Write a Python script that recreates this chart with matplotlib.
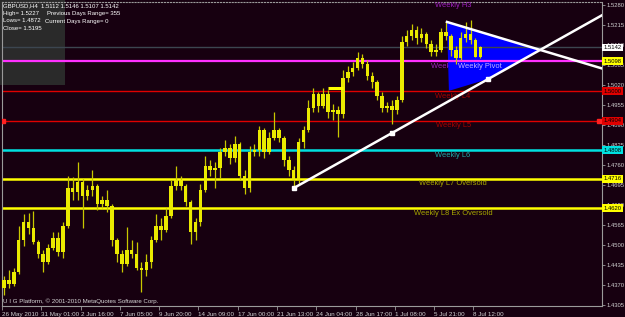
import matplotlib
matplotlib.use("Agg")
import matplotlib.pyplot as plt
import matplotlib.transforms as mtransforms
from matplotlib.patches import Rectangle, Polygon
import numpy as np

# GBPUSD, H4 candles (two H4 periods per candle)
opens = [1.4360, 1.4386, 1.4373, 1.4412, 1.4516, 1.4575, 1.4555, 1.4510, 1.4471, 1.4445,
         1.4490, 1.4523, 1.4477, 1.4562, 1.4685, 1.4672, 1.4705, 1.4659, 1.4679, 1.4692,
         1.4633, 1.4646, 1.4627, 1.4516, 1.4471, 1.4438, 1.4484, 1.4471, 1.4425, 1.4419,
         1.4445, 1.4516, 1.4562, 1.4549, 1.4594, 1.4692, 1.4711, 1.4692, 1.4640, 1.4542,
         1.4575, 1.4679, 1.4757, 1.4744, 1.4750, 1.4802, 1.4815, 1.4783, 1.4828, 1.4724,
         1.4685, 1.4802, 1.4809, 1.4874, 1.4802, 1.4848, 1.4874, 1.4848, 1.4776, 1.4744,
         1.4711, 1.4835, 1.4874, 1.4945, 1.4991, 1.4952, 1.4991, 1.4932, 1.4939, 1.4926,
         1.5043, 1.5062, 1.5075, 1.5108, 1.5088, 1.5049, 1.5030, 1.4984, 1.4945, 1.4952,
         1.4939, 1.4971, 1.5160, 1.5179, 1.5199, 1.5173, 1.5186, 1.5153, 1.5127, 1.5134,
         1.5192, 1.5179, 1.5134, 1.5108, 1.5173, 1.5186, 1.5166, 1.5112]
highs = [1.4399, 1.4419, 1.4425, 1.4562, 1.4601, 1.4604, 1.4611, 1.4516, 1.4484, 1.4503,
         1.4542, 1.4542, 1.4575, 1.4724, 1.4721, 1.4770, 1.4718, 1.4695, 1.4744, 1.4698,
         1.4659, 1.4679, 1.4633, 1.4523, 1.4484, 1.4559, 1.4516, 1.4510, 1.4445, 1.4471,
         1.4529, 1.4601, 1.4588, 1.4620, 1.4711, 1.4757, 1.4724, 1.4698, 1.4646, 1.4588,
         1.4698, 1.4789, 1.4776, 1.4770, 1.4815, 1.4841, 1.4828, 1.4854, 1.4835, 1.4744,
         1.4822, 1.4828, 1.4887, 1.4880, 1.4867, 1.4932, 1.4880, 1.4854, 1.4789, 1.4757,
         1.4848, 1.4887, 1.4971, 1.5010, 1.4997, 1.5010, 1.5004, 1.4958, 1.4952, 1.5069,
         1.5082, 1.5095, 1.5127, 1.5121, 1.5101, 1.5062, 1.5036, 1.4997, 1.4965, 1.4971,
         1.4984, 1.5179, 1.5199, 1.5218, 1.5212, 1.5205, 1.5192, 1.5166, 1.5153, 1.5205,
         1.5225, 1.5186, 1.5147, 1.5192, 1.5225, 1.5232, 1.5173, 1.5146]
lows = [1.4338, 1.4360, 1.4367, 1.4406, 1.4497, 1.4536, 1.4503, 1.4458, 1.4412, 1.4438,
        1.4484, 1.4464, 1.4458, 1.4555, 1.4646, 1.4646, 1.4555, 1.4646, 1.4659, 1.4614,
        1.4620, 1.4607, 1.4497, 1.4445, 1.4412, 1.4432, 1.4458, 1.4419, 1.4347, 1.4399,
        1.4425, 1.4510, 1.4516, 1.4542, 1.4588, 1.4679, 1.4679, 1.4627, 1.4503, 1.4516,
        1.4562, 1.4672, 1.4724, 1.4685, 1.4718, 1.4789, 1.4763, 1.4770, 1.4711, 1.4666,
        1.4672, 1.4789, 1.4789, 1.4783, 1.4796, 1.4841, 1.4835, 1.4757, 1.4724, 1.4685,
        1.4698, 1.4815, 1.4867, 1.4932, 1.4932, 1.4945, 1.4913, 1.4906, 1.4851, 1.4913,
        1.5030, 1.5049, 1.5069, 1.5075, 1.5036, 1.5010, 1.4971, 1.4932, 1.4932, 1.4893,
        1.4926, 1.4965, 1.5147, 1.5166, 1.5153, 1.5160, 1.5140, 1.5114, 1.5114, 1.5127,
        1.5166, 1.5114, 1.5088, 1.5101, 1.5160, 1.5153, 1.5111, 1.5107]
closes = [1.4386, 1.4373, 1.4412, 1.4516, 1.4575, 1.4555, 1.4510, 1.4471, 1.4445, 1.4490,
          1.4523, 1.4477, 1.4562, 1.4685, 1.4672, 1.4705, 1.4659, 1.4679, 1.4692, 1.4633,
          1.4646, 1.4627, 1.4516, 1.4471, 1.4438, 1.4484, 1.4471, 1.4425, 1.4419, 1.4445,
          1.4516, 1.4562, 1.4549, 1.4594, 1.4692, 1.4711, 1.4692, 1.4640, 1.4542, 1.4575,
          1.4679, 1.4757, 1.4744, 1.4750, 1.4802, 1.4815, 1.4783, 1.4828, 1.4724, 1.4685,
          1.4802, 1.4809, 1.4874, 1.4802, 1.4848, 1.4874, 1.4848, 1.4776, 1.4744, 1.4711,
          1.4835, 1.4874, 1.4945, 1.4991, 1.4952, 1.4991, 1.4932, 1.4939, 1.4926, 1.5043,
          1.5062, 1.5075, 1.5108, 1.5088, 1.5049, 1.5030, 1.4984, 1.4945, 1.4952, 1.4939,
          1.4971, 1.5160, 1.5179, 1.5199, 1.5173, 1.5186, 1.5153, 1.5127, 1.5134, 1.5192,
          1.5179, 1.5134, 1.5108, 1.5173, 1.5186, 1.5166, 1.5112, 1.5142]

time_labels = ["26 May 2010", "31 May 01:00", "2 Jun 16:00", "7 Jun 05:00", "9 Jun 20:00",
               "14 Jun 09:00", "17 Jun 00:00", "21 Jun 13:00", "24 Jun 04:00", "28 Jun 17:00",
               "1 Jul 08:00", "5 Jul 21:00", "8 Jul 12:00"]
price_ticks = [1.5280, 1.5215, 1.5150, 1.5085, 1.5020, 1.4955, 1.4890, 1.4825, 1.4760,
               1.4695, 1.4630, 1.4565, 1.4500, 1.4435, 1.4370, 1.4305]

level_names = ["Weekly H3", "Weekly Pivot", "Weekly L4", "Weekly L5", "Weekly L6",
               "Weekly L7 Oversold", "Weekly L8 Ex Oversold"]
level_prices = [1.5295, 1.5098, 1.5000, 1.4904, 1.4808, 1.4716, 1.4620]
last_price = 1.5142

# trend lines (bar, price anchors)
up_bars = [59, 79]
up_prices = [1.4685, 1.4864]
down_bars = [90.2, 109.2]
down_prices = [1.5225, 1.5134]
tri_corner = (90.6, 1.5001)
tri_mid_bar = 98.6
flat_bars = [66, 69.1]
flat_price = 1.5010

BG = "#170010"
level_colors = ["#a020c0", "#ff30ff", "#e00000", "#e00000", "#00e0e0", "#ffff00", "#ffff00"]
text_colors = ["#a020c0", "#a020c0", "#a80000", "#a80000", "#1fa8a8", "#a8a800", "#a8a800"]
level_lw = [1.5, 1.6, 1.0, 1.0, 1.8, 1.8, 1.8]
tag_colors = ["#ffff00", "#e00000", "#e00000", "#00e0e0", "#ffff00", "#ffff00"]

plt.rcParams['font.family'] = ['Liberation Sans', 'DejaVu Sans']

fig = plt.figure(figsize=(6.25, 3.17), dpi=100, facecolor=BG)
ax = fig.add_axes([2 / 625, 11 / 317, 600 / 625, 304 / 317])
ax.set_facecolor('none')
fig.add_artist(Rectangle((0, 1 - 85 / 317), 65 / 625, 85 / 317, transform=fig.transFigure,
                         facecolor="#2a2a2a", edgecolor='none', zorder=-1))

xs = np.arange(len(closes))
o = np.array(opens)
c = np.array(closes)
ax.vlines(xs, lows, highs, color="#c8c800", lw=0.9, zorder=4)
ax.bar(xs, np.maximum(np.abs(c - o), 0.00025), bottom=np.minimum(o, c), width=0.72,
       color="#eaea00", linewidth=0, zorder=4)

xmin, xmax = -0.305, 121.77
ax.set_xlim(xmin, xmax)
ax.set_ylim(1.43018, 1.52898)

# horizontal levels
ax.axhline(last_price, color="#3c4650", lw=1.0, zorder=2)
for p, col, lw in zip(level_prices, level_colors, level_lw):
    ax.axhline(p, color=col, lw=lw, zorder=2)
ax.plot([-0.1, 121.2], [level_prices[3]] * 2, 's', color="#ff2020", ms=2.2, ls='none', zorder=3)
ax.hlines(flat_price, flat_bars[0], flat_bars[1], color="#ffff00", lw=2.2, zorder=4)

# labels under each level
for i, (name, p, col) in enumerate(zip(level_names, level_prices, text_colors)):
    ax.annotate(name, (91.45, p), xytext=(0, -3.8), textcoords='offset points',
                ha='center', va='center', fontsize=5.4, color=col,
                zorder=0.5 if i == 1 else 5, annotation_clip=False)
ax.annotate("Weekly Pivot", (92.5, level_prices[1]), xytext=(0, -3.8), textcoords='offset points',
            ha='left', va='center', fontsize=5.4, color="#c8b4ff", zorder=5)

# trend lines and triangle
xe = np.array([up_bars[0], xmax])
up_slope = (up_prices[1] - up_prices[0]) / (up_bars[1] - up_bars[0])
ax.plot(xe, up_prices[0] + up_slope * (xe - up_bars[0]), color='white', lw=1.8, zorder=6)
xd = np.array([down_bars[0], xmax])
dn_slope = (down_prices[1] - down_prices[0]) / (down_bars[1] - down_bars[0])
ax.plot(xd, down_prices[0] + dn_slope * (xd - down_bars[0]), color='white', lw=1.8, zorder=6)
mk = np.array([up_bars[0], up_bars[1], tri_mid_bar])
ax.plot(mk, up_prices[0] + up_slope * (mk - up_bars[0]), 's', color='white', ms=2.6, zorder=7)

bx = (down_prices[0] - dn_slope * down_bars[0] - up_prices[0] + up_slope * up_bars[0]) / (up_slope - dn_slope)
by = up_prices[0] + up_slope * (bx - up_bars[0])
tri = Polygon([(down_bars[0], down_prices[0]), tri_corner,
               (tri_mid_bar, up_prices[0] + up_slope * (tri_mid_bar - up_bars[0])), (bx, by)],
              closed=True, facecolor="#0000ff", edgecolor='none', zorder=1)
ax.add_patch(tri)

# axes styling
for s in ax.spines.values():
    s.set_color("#9a9a9a")
    s.set_linewidth(0.8)
ax.spines['top'].set_linestyle(':')
ax.yaxis.tick_right()
ax.set_yticks(price_ticks)
ax.set_yticklabels([f"{v:.4f}" for v in price_ticks])
ax.tick_params(axis='y', colors="#9a9a9a", labelcolor="#d0d0d0", labelsize=4.2,
               length=2, width=0.6, pad=1.5)
ax.set_xticks([8 * k - 0.4 for k in range(len(time_labels))])
ax.set_xticklabels(time_labels)
for lbl in ax.get_xticklabels():
    lbl.set_ha('left')
ax.tick_params(axis='x', colors="#9a9a9a", labelcolor="#d0d0d0", labelsize=4.5,
               length=3, width=0.6, pad=1)

# price tags on the right scale
trans = mtransforms.blended_transform_factory(ax.transAxes, ax.transData)
ax.text(1.003, last_price, f"{last_price:.4f}", transform=trans, fontsize=4.2, color='black',
        va='center', ha='left', clip_on=False, zorder=10,
        bbox=dict(boxstyle='square,pad=0.25', fc='white', ec='none'))
for p, col in zip(level_prices[1:], tag_colors):
    ax.text(1.003, p, f"{p:.4f}", transform=trans, fontsize=4.2, color='black',
            va='center', ha='left', clip_on=False, zorder=10,
            bbox=dict(boxstyle='square,pad=0.25', fc=col, ec='none'))

# info box and copyright
txt = dict(color='white', fontsize=4.3, va='center', ha='left')
fig.text(3 / 625, 1 - 6 / 317, "GBPUSD,H4  1.5112 1.5146 1.5107 1.5142", **txt)
fig.text(3 / 625, 1 - 13 / 317, "High= 1.5227", **txt)
fig.text(47 / 625, 1 - 13 / 317, "Previous Days Range= 355", **txt)
fig.text(3 / 625, 1 - 21 / 317, "Lows= 1.4872", **txt)
fig.text(45 / 625, 1 - 21 / 317, "Current Days Range= 0", **txt)
fig.text(3 / 625, 1 - 28 / 317, "Close= 1.5195", **txt)
fig.text(3 / 625, 1 - 301 / 317, "U I G Platform, \u00a9 2001-2010 MetaQuotes Software Corp.",
         color="#d8d8d8", fontsize=4.4, va='center', ha='left')

fig.savefig("out.png", dpi=100, facecolor=BG)
